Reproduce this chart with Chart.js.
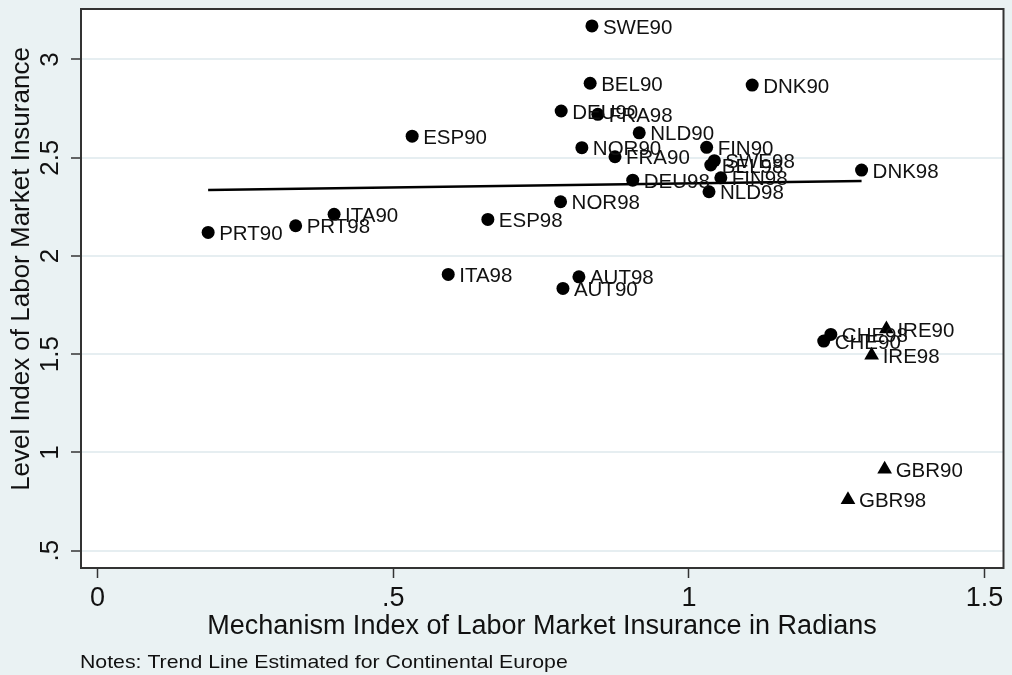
<!DOCTYPE html>
<html>
<head>
<meta charset="utf-8">
<script src="https://cdn.jsdelivr.net/npm/chart.js@4.4.1/dist/chart.umd.min.js"></script>
<style>
  html, body { margin: 0; padding: 0; background: #eaf2f3; }
</style>
</head>
<body>
<canvas id="myChart" width="1012" height="675"></canvas>
<script>
// Countries drawn with circles
const circleLabels = ['AUT90', 'AUT98', 'BEL90', 'BEL98', 'CHE90', 'CHE98', 'DEU90', 'DEU98',
    'DNK90', 'DNK98', 'ESP90', 'ESP98', 'FIN90', 'FIN98', 'FRA90', 'FRA98', 'ITA90', 'ITA98',
    'NLD90', 'NLD98', 'NOR90', 'NOR98', 'PRT90', 'PRT98', 'SWE90', 'SWE98'];
const circleX = [0.787, 0.814, 0.833, 1.037, 1.228, 1.240, 0.784, 0.905,
    1.107, 1.292, 0.532, 0.660, 1.030, 1.054, 0.875, 0.846, 0.400, 0.593,
    0.916, 1.034, 0.819, 0.783, 0.187, 0.335, 0.836, 1.043];
const circleY = [1.835, 1.894, 2.879, 2.463, 1.567, 1.601, 2.738, 2.386,
    2.870, 2.437, 2.610, 2.186, 2.553, 2.398, 2.505, 2.721, 2.212, 1.906,
    2.627, 2.327, 2.551, 2.276, 2.120, 2.154, 3.171, 2.485];

// Countries drawn with triangles
const triLabels = ['GBR90', 'GBR98', 'IRE90', 'IRE98'];
const triX = [1.331, 1.269, 1.334, 1.309];
const triY = [0.915, 0.759, 1.628, 1.495];

// trend line (continental europe)
const trendX = [0.187, 1.292];
const trendY = [2.336, 2.381];

const xTicks = [0, 0.5, 1, 1.5];
const xTickLabels = ['0', '.5', '1', '1.5'];
const yTicks = [0.5, 1, 1.5, 2, 2.5, 3];
const yTickLabels = ['.5', '1', '1.5', '2', '2.5', '3'];

const FONT = '"Liberation Sans", Arial, sans-serif';

const toPoints = (xs, ys) => xs.map((x, i) => ({ x: x, y: ys[i] }));

const stataLook = {
    id: 'stataLook',
    beforeDraw(chart) {
        const c = chart.ctx, a = chart.chartArea;
        c.save();
        c.fillStyle = '#eaf2f3';
        c.fillRect(0, 0, chart.width, chart.height);
        c.fillStyle = '#ffffff';
        c.fillRect(a.left, a.top, a.right - a.left, a.bottom - a.top);
        c.restore();
    },
    afterDatasetsDraw(chart) {
        const c = chart.ctx;
        c.save();
        c.font = '20.5px ' + FONT;
        c.fillStyle = '#111';
        c.textAlign = 'left';
        c.textBaseline = 'middle';
        chart.data.datasets.forEach((ds, di) => {
            if (!ds.pointNames) return;
            chart.getDatasetMeta(di).data.forEach((pt, i) => {
                c.fillText(ds.pointNames[i], pt.x + 11, pt.y + 2);
            });
        });
        c.restore();
    },
    afterDraw(chart) {
        const c = chart.ctx, a = chart.chartArea;
        const ys = chart.scales.y;
        c.save();
        // plot region outline
        c.strokeStyle = '#333';
        c.lineWidth = 2;
        c.strokeRect(a.left, a.top, a.right - a.left, a.bottom - a.top);

        c.fillStyle = '#111';
        // y tick labels, rotated
        c.font = '26px ' + FONT;
        c.textAlign = 'center';
        c.textBaseline = 'middle';
        yTicks.forEach((v, i) => {
            c.save();
            c.translate(51, ys.getPixelForValue(v));
            c.rotate(-Math.PI / 2);
            c.fillText(yTickLabels[i], 0, 0);
            c.restore();
        });

        // y axis title
        c.font = '26px ' + FONT;
        c.save();
        c.translate(22, 269);
        c.rotate(-Math.PI / 2);
        c.fillText('Level Index of Labor Market Insurance', 0, 0);
        c.restore();

        // x axis title
        c.font = '27px ' + FONT;
        c.fillText('Mechanism Index of Labor Market Insurance in Radians', 542, 627);

        // notes (slightly stretched like the original)
        c.font = '19px ' + FONT;
        c.textAlign = 'left';
        c.save();
        c.translate(80, 663);
        c.scale(1.12, 1);
        c.fillText('Notes: Trend Line Estimated for Continental Europe', 0, 0);
        c.restore();
        c.restore();
    }
};

const ctx = document.getElementById('myChart').getContext('2d');
const myChart = new Chart(ctx, {
    type: 'scatter',
    data: {
        datasets: [{
            data: toPoints(circleX, circleY),
            pointNames: circleLabels,
            pointStyle: 'circle',
            pointRadius: 6.5,
            backgroundColor: '#000',
            borderColor: '#000',
            borderWidth: 0
        }, {
            data: toPoints(triX, triY),
            pointNames: triLabels,
            pointStyle: 'triangle',
            pointRadius: 8.5,
            backgroundColor: '#000',
            borderColor: '#000',
            borderWidth: 0
        }, {
            type: 'line',
            data: toPoints(trendX, trendY),
            borderColor: '#000',
            borderWidth: 2.5,
            pointRadius: 0,
            fill: false
        }]
    },
    options: {
        responsive: false,
        animation: false,
        layout: {
            padding: { top: 9, right: 7, left: 0, bottom: 0 }
        },
        plugins: {
            legend: { display: false },
            tooltip: { enabled: false }
        },
        scales: {
            x: {
                type: 'linear',
                min: -0.028,
                max: 1.532,
                afterBuildTicks: (scale) => { scale.ticks = xTicks.map(v => ({ value: v })); },
                afterFit: (scale) => { scale.height = 107; },
                border: { display: false },
                grid: {
                    drawOnChartArea: false,
                    color: 'rgba(0,0,0,0)',
                    tickColor: '#333',
                    tickLength: 10,
                    tickWidth: 1.5
                },
                ticks: {
                    padding: 4,
                    color: '#111',
                    font: { family: FONT, size: 27 },
                    maxRotation: 0,
                    callback: function(value, index) {
                        return xTickLabels[index];
                    }
                }
            },
            y: {
                type: 'linear',
                min: 0.412,
                max: 3.257,
                afterBuildTicks: (scale) => { scale.ticks = yTicks.map(v => ({ value: v })); },
                afterFit: (scale) => { scale.width = 81; },
                border: { display: false },
                grid: {
                    color: '#e6eef1',
                    lineWidth: 2,
                    tickColor: '#333',
                    tickLength: 10,
                    tickWidth: 1.5
                },
                ticks: { display: false }
            }
        }
    },
    plugins: [stataLook]
});
</script>
</body>
</html>
